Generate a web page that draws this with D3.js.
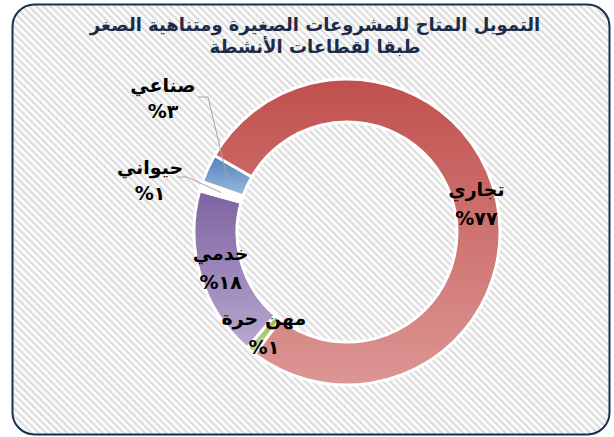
<!DOCTYPE html>
<html>
<head>
<meta charset="utf-8">
<script src="https://cdn.jsdelivr.net/npm/d3@7"></script>
<style>
  body { margin:0; background:#fff; }
  text { font-family: "DejaVu Sans", Arial, sans-serif; font-weight: bold; }
</style>
</head>
<body>
<div id="chart"></div>
<script>
// chart data
const titleLines = ["التمويل المتاح للمشروعات الصغيرة ومتناهية الصغر", "طبقا لقطاعات الأنشطة"];
const categories = ["تجاري", "مهن حرة", "خدمي", "حيواني", "صناعي"];
const values = [77, 1, 18, 1, 3];
const topColors = ["#c0504d", "#9bbb59", "#7f62a1", "#ffffff", "#4f81bd"];
const bottomColors = ["#dc9694", "#c4d79b", "#b7a8d0", "#ffffff", "#9cbadc"];

var width = 614, height = 437;
var cx = 347, cy = 232, outerR = 153, innerR = 110;

// arabic-indic digits for the labels
function arDigits(n){
    return String(n).replace(/[0-9]/g, function(c){ return "٠١٢٣٤٥٦٧٨٩"[+c]; });
}

var svg = d3.select("#chart").append("svg")
    .attr("width", width).attr("height", height);

var defs = svg.append("defs");

// striped background
var pat = defs.append("pattern")
    .attr("id", "stripes")
    .attr("patternUnits", "userSpaceOnUse")
    .attr("width", 5).attr("height", 5)
    .attr("patternTransform", "rotate(-45)");
pat.append("rect").attr("width", 5).attr("height", 5).attr("fill", "#ffffff");
pat.append("rect").attr("width", 2.5).attr("height", 5).attr("fill", "#dedede");

svg.append("rect")
    .attr("x", 12.5).attr("y", 4.5)
    .attr("width", 597).attr("height", 430)
    .attr("rx", 22).attr("ry", 22)
    .attr("fill", "url(#stripes)")
    .attr("stroke", "#17304f")
    .attr("stroke-width", 2);

// title
svg.append("g").selectAll("text")
    .data(titleLines)
    .enter()
    .append("text")
    .attr("x", 315)
    .attr("y", function(d,i){ return 31 + i*22; })
    .attr("text-anchor", "middle")
    .attr("direction", "rtl")
    .style("font-size", "18px")
    .style("fill", "#1c2b48")
    .text(function(d){ return d; });

// gradients per slice
categories.forEach(function(c,i){
    var g = defs.append("linearGradient")
        .attr("id", "grad"+i)
        .attr("x1", 0).attr("y1", 0).attr("x2", 0).attr("y2", 1);
    g.append("stop").attr("offset", "0%").attr("stop-color", topColors[i]);
    g.append("stop").attr("offset", "100%").attr("stop-color", bottomColors[i]);
});

var startA = -60 * Math.PI / 180;
var pie = d3.pie().sort(null)
    .startAngle(startA).endAngle(startA + 2*Math.PI)
    .value(function(d){ return d; });
var arcs = pie(values);

var arc = d3.arc().innerRadius(innerR).outerRadius(outerR);
var labelArc = d3.arc().innerRadius(132).outerRadius(132);

var g = svg.append("g").attr("transform", "translate("+cx+","+cy+")");

g.selectAll("path.slice")
    .data(arcs)
    .enter()
    .append("path")
    .attr("class", "slice")
    .attr("d", arc)
    .attr("fill", function(d,i){ return "url(#grad"+i+")"; })
    .attr("stroke", "#ffffff")
    .attr("stroke-width", 3)
    .attr("stroke-linejoin", "round");

// outside labels (with leader lines) for the small slices on the left
var outside = {
    3: {elbow:[-160, -55], dx:-27, y1:-3, y2:23},
    4: {elbow:[-139, -135], dx:-35, y1:-5, y2:21}
};

arcs.forEach(function(d,i){
    var c = labelArc.centroid(d);
    var lx = c[0], y1 = c[1] - 10, y2 = c[1] + 19;
    if (outside[i]) {
        var o = outside[i];
        var e = o.elbow;
        var end = [e[0]-10, e[1]];
        g.append("polyline")
            .attr("points", [c, e, end].map(function(p){ return p.join(","); }).join(" "))
            .attr("fill", "none")
            .attr("stroke", "#a6a6a6")
            .attr("stroke-width", 1);
        lx = end[0] + o.dx;
        y1 = e[1] + o.y1;
        y2 = e[1] + o.y2;
    }
    var t = g.append("text")
        .attr("text-anchor", "middle")
        .attr("direction", "rtl")
        .style("font-size", "19px")
        .style("fill", "#000");
    t.append("tspan").attr("x", lx).attr("y", y1).text(categories[i]);
    t.append("tspan").attr("x", lx).attr("y", y2).text(arDigits(values[i]) + "%");
});
</script>
</body>
</html>
